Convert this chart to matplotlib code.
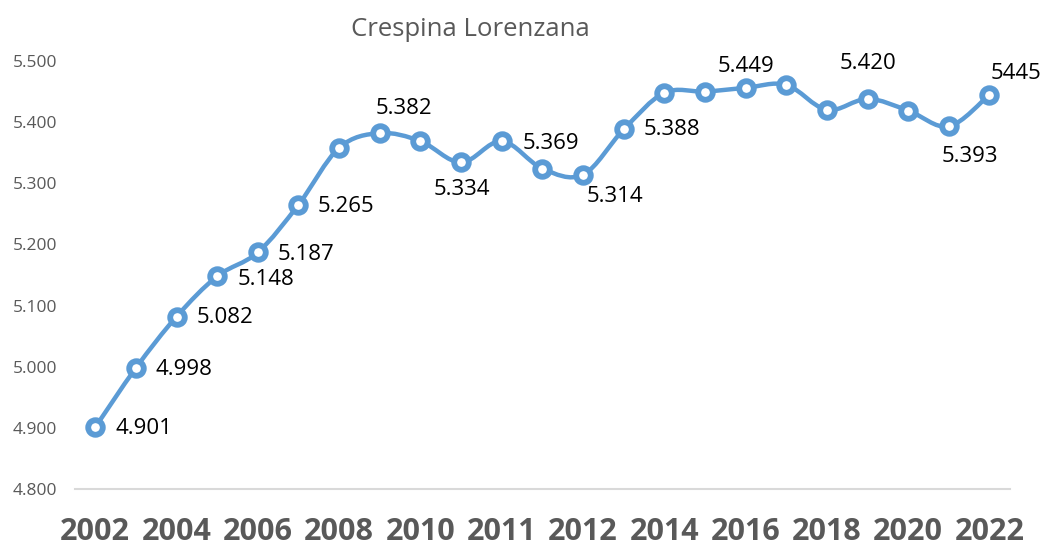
import matplotlib
matplotlib.use("Agg")
import matplotlib.pyplot as plt
from matplotlib.path import Path
from matplotlib.patches import PathPatch
from matplotlib.ticker import FuncFormatter

# popolazione residente
values = [4901, 4998, 5082, 5148, 5187, 5265, 5358, 5382, 5369, 5334, 5369, 5324,
          5314, 5388, 5448, 5450, 5456, 5461, 5420, 5438, 5419, 5393, 5445]
year_labels = ["2002", "2004", "2006", "2008", "2010", "2011", "2012",
               "2014", "2016", "2018", "2020", "2022"]
# etichette dati: indice del punto, testo
label_idx = [0, 1, 2, 3, 4, 5, 7, 9, 10, 12, 13, 16, 19, 21, 22]
label_txt = ["4.901", "4.998", "5.082", "5.148", "5.187", "5.265", "5.382", "5.334",
             "5.369", "5.314", "5.388", "5.449", "5.420", "5.393", "5445"]
# offset in pixel (dx, dy) e allineamento
label_off = [(20, -1, "left"), (20, -2, "left"), (20, -1, "left"), (20, -3, "left"),
             (20, -2, "left"), (19, -2, "left"), (24, 25, "center"), (1, -27, "center"),
             (21, -2, "left"), (32, -22, "center"), (20, 0, "left"), (0, 21, "center"),
             (0, 35, "center"), (21, -30, "center"), (27, 21, "center")]

blue = "#5B9BD5"
grey = "#595959"
font = "Open Sans"

fig = plt.figure(figsize=(10.41, 5.48), dpi=100)
ax = fig.add_axes([0.072, 0.1077, 0.898, 0.781])

x = list(range(len(values)))

# linea smussata tipo Excel (bezier)
verts = [(x[0], values[0])]
codes = [Path.MOVETO]
n = len(values)
for i in range(n - 1):
    p0 = (x[max(i - 1, 0)], values[max(i - 1, 0)])
    p1 = (x[i], values[i])
    p2 = (x[i + 1], values[i + 1])
    p3 = (x[min(i + 2, n - 1)], values[min(i + 2, n - 1)])
    c1 = (p1[0] + (p2[0] - p0[0]) / 6, p1[1] + (p2[1] - p0[1]) / 6)
    c2 = (p2[0] - (p3[0] - p1[0]) / 6, p2[1] - (p3[1] - p1[1]) / 6)
    verts += [c1, c2, p2]
    codes += [Path.CURVE4] * 3
ax.add_patch(PathPatch(Path(verts, codes), facecolor="none", edgecolor=blue,
                       lw=3.2, capstyle="round", joinstyle="round", zorder=2))
ax.plot(x, values, linestyle="none", marker="o", ms=10.5, mew=4.2,
        mec=blue, mfc="white", zorder=3)

for i, t, (dx, dy, ha) in zip(label_idx, label_txt, label_off):
    ax.annotate(t, (x[i], values[i]), xytext=(dx, dy), textcoords="offset pixels",
                ha=ha, va="center", fontsize=16, family=font, color="black",
                annotation_clip=False)

ax.set_xlim(-0.5, len(values) - 0.5)
ax.set_ylim(4800, 5500)
ax.set_yticks(range(4800, 5501, 100))
ax.yaxis.set_major_formatter(FuncFormatter(lambda v, p: f"{v / 1000:.3f}"))
ax.set_xticks(x[::2])
ax.set_xticklabels(year_labels)

for lab in ax.get_yticklabels():
    lab.set_family(font)
    lab.set_fontsize(12.5)
    lab.set_color(grey)
for lab in ax.get_xticklabels():
    lab.set_family(font)
    lab.set_fontsize(22)
    lab.set_fontweight("bold")
    lab.set_color(grey)

ax.tick_params(axis="y", length=0, pad=13)
ax.tick_params(axis="x", length=0, pad=20)
for s in ["top", "right", "left"]:
    ax.spines[s].set_visible(False)
ax.spines["bottom"].set_color("#D9D9D9")
ax.spines["bottom"].set_linewidth(1.5)

fig.text(0.452, 0.946, "Crespina Lorenzana", ha="center", va="center",
         fontsize=18.5, family=font, color=grey)

fig.savefig("out.png", dpi=100)
